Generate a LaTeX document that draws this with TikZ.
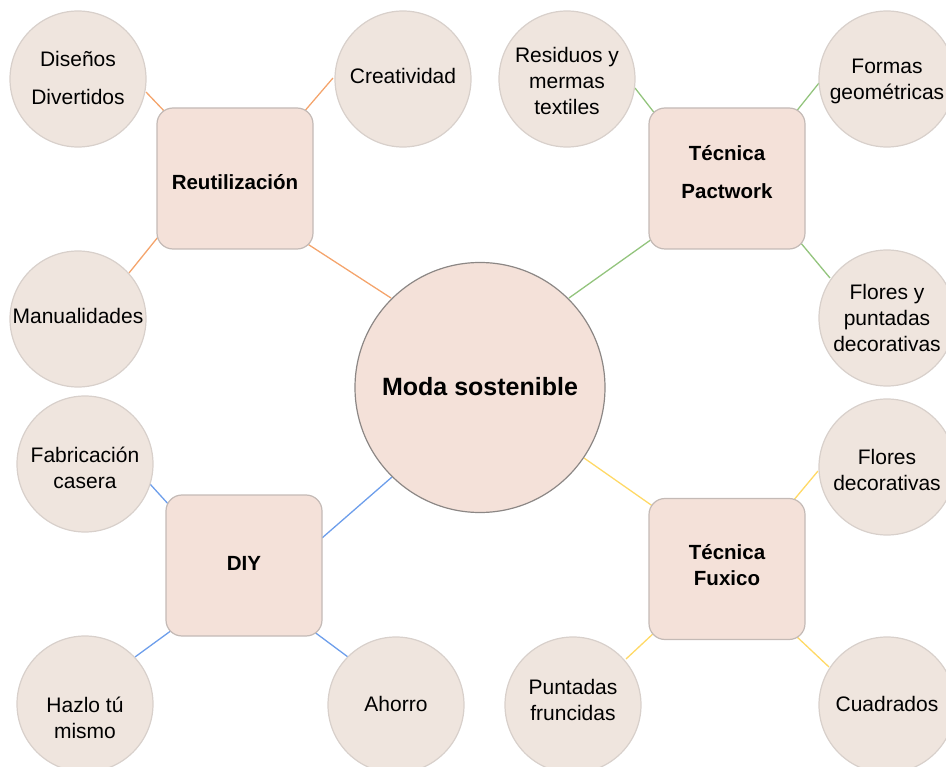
\documentclass[tikz,border=0pt]{standalone}
\usepackage{fontspec}
\setmainfont{Liberation Sans}
\usetikzlibrary{calc,backgrounds}
\definecolor{leaffill}{HTML}{EFE5DE}
\definecolor{leafdraw}{HTML}{D8D0CB}
\definecolor{hubfill}{HTML}{F4E1D9}
\definecolor{hubdraw}{HTML}{C4BAB6}
\definecolor{modadraw}{HTML}{8C8785}
\definecolor{corange}{HTML}{F4A46C}
\definecolor{cgreen}{HTML}{93C47D}
\definecolor{cblue}{HTML}{6D9EEB}
\definecolor{cyellow}{HTML}{FFD966}
\tikzset{
  leaf/.style={circle, minimum size=136pt, inner sep=0pt, fill=leaffill, draw=leafdraw, line width=1.2pt},
  hub/.style={rectangle, rounded corners=16pt, minimum width=156pt, minimum height=141pt, inner sep=0pt, fill=hubfill, draw=hubdraw, line width=1.2pt},
  moda/.style={circle, minimum size=250pt, inner sep=0pt, fill=hubfill, draw=modadraw, line width=1.2pt},
  ltxt/.style={align=center, inner sep=0pt, font=\fontsize{21}{26}\selectfont},
  ltxtw/.style={align=center, inner sep=0pt, font=\fontsize{21}{38}\selectfont},
  htxt/.style={align=center, inner sep=0pt, font=\fontsize{20.5}{26}\selectfont\bfseries},
  htxtw/.style={align=center, inner sep=0pt, font=\fontsize{20.5}{38}\selectfont\bfseries},
  mtxt/.style={align=center, inner sep=0pt, font=\fontsize{25}{30}\selectfont\bfseries},
  lor/.style={draw=corange, line width=1.3pt},
  lgr/.style={draw=cgreen, line width=1.3pt},
  lbl/.style={draw=cblue, line width=1.3pt},
  lye/.style={draw=cyellow, line width=1.3pt}
}
\begin{document}
\begin{tikzpicture}[x=1pt,y=-1pt]
\useasboundingbox (0,0) rectangle (946,767);
% central
\node[moda] (moda) at (480,387.5) {};
\node[mtxt] (modaT) at (480,387) {Moda sostenible};
% hubs
\node[hub] (reut) at (235,178.5) {};
\node[htxt] (reutT) at (235,182) {Reutilización};
\node[hub] (pact) at (727,178.5) {};
\node[htxtw] (pactT) at (727,172) {Técnica\\Pactwork};
\node[hub] (diy) at (244,565.5) {};
\node[htxt] (diyT) at (244,563) {DIY};
\node[hub] (fux) at (727,569) {};
\node[htxt] (fuxT) at (727,565) {Técnica\\Fuxico};
% leaves
\node[leaf] (dis) at (78,79) {};
\node[ltxtw] (disT) at (78,78) {Diseños\\Divertidos};
\node[leaf] (cre) at (403,79) {};
\node[ltxt] (creT) at (403,76) {Creatividad};
\node[leaf] (man) at (78,319) {};
\node[ltxt] (manT) at (78,316) {Manualidades};
\node[leaf] (res) at (567,79) {};
\node[ltxt] (resT) at (567,81) {Residuos y\\mermas\\textiles};
\node[leaf] (for) at (887,79) {};
\node[ltxt] (forT) at (887,81.5) {Formas\\geométricas};
\node[leaf] (flp) at (887,318) {};
\node[ltxt] (flpT) at (887,318) {Flores y\\puntadas\\decorativas};
\node[leaf] (fab) at (85,464) {};
\node[ltxt] (fabT) at (85,468) {Fabricación\\casera};
\node[leaf] (haz) at (85,704) {};
\node[ltxt] (hazT) at (85,717.5) {Hazlo tú\\mismo};
\node[leaf] (aho) at (396,705) {};
\node[ltxt] (ahoT) at (396,704) {Ahorro};
\node[leaf] (fld) at (887,467) {};
\node[ltxt] (fldT) at (887,470) {Flores\\decorativas};
\node[leaf] (pun) at (573,705) {};
\node[ltxt] (punT) at (573,700) {Puntadas\\fruncidas};
\node[leaf] (cua) at (887,705) {};
\node[ltxt] (cuaT) at (887,704) {Cuadrados};
% connectors
\begin{scope}[on background layer]
\draw[lor] ($(dis)+(68,13)$) -- ($(reut)+(-69,-65.5)$);
\draw[lor] ($(cre)+(-70,-1)$) -- ($(reut)+(68,-65.5)$);
\draw[lor] ($(man)+(51,-46)$) -- ($(reut)+(-77,58.5)$);
\draw[lor] ($(moda)+(-89,-89.5)$) -- ($(reut)+(71,64.5)$);
\draw[lgr] ($(res)+(68,9)$) -- ($(pact)+(-71,-63.5)$);
\draw[lgr] ($(for)+(-68,4)$) -- ($(pact)+(68,-65.5)$);
\draw[lgr] ($(flp)+(-57,-40)$) -- ($(pact)+(73,63.5)$);
\draw[lgr] ($(moda)+(89,-89.5)$) -- ($(pact)+(-75,60.5)$);
\draw[lbl] ($(fab)+(65,20)$) -- ($(diy)+(-74,-59.5)$);
\draw[lbl] ($(moda)+(-88,89.5)$) -- ($(diy)+(78,-27.5)$);
\draw[lbl] ($(haz)+(50,-47)$) -- ($(diy)+(-72,64.5)$);
\draw[lbl] ($(aho)+(-48,-48)$) -- ($(diy)+(69,65.5)$);
\draw[lye] ($(moda)+(104,70.5)$) -- ($(fux)+(-73,-62)$);
\draw[lye] ($(fld)+(-69,4)$) -- ($(fux)+(66,-68)$);
\draw[lye] ($(pun)+(53,-46)$) -- ($(fux)+(-72,63)$);
\draw[lye] ($(cua)+(-58,-38)$) -- ($(fux)+(69,67)$);
\end{scope}
\end{tikzpicture}
\end{document}
